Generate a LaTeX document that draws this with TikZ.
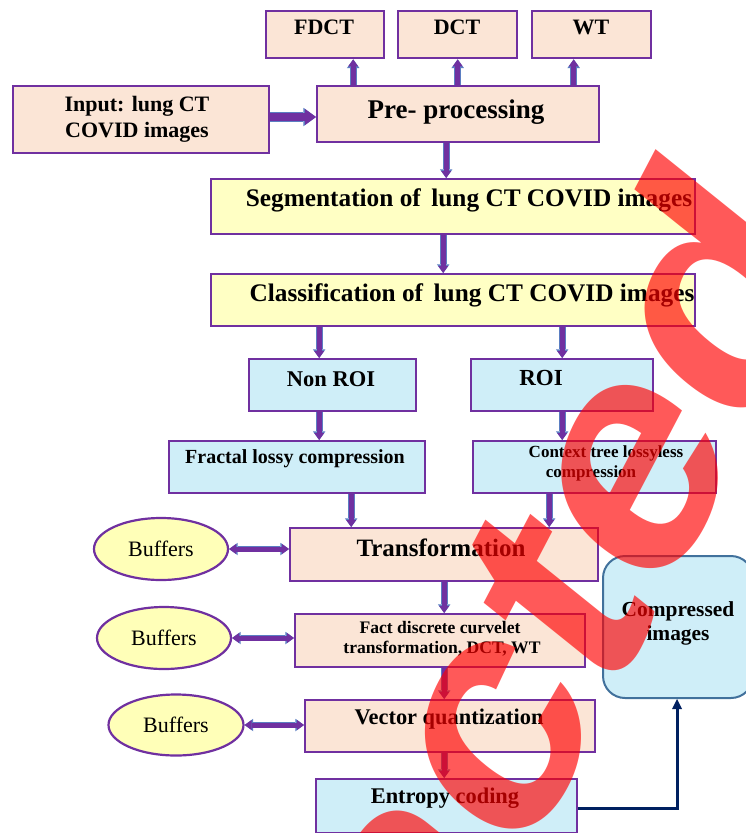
\documentclass[tikz,border=0pt]{standalone}
\usepackage{fontspec}
\setmainfont{Liberation Serif}
\newfontfamily\wmfont{Liberation Sans}
\usetikzlibrary{arrows.meta,shapes.geometric,calc}
\definecolor{boxline}{HTML}{7030A0}
\definecolor{peachfill}{HTML}{FBE5D6}
\definecolor{yelfill}{HTML}{FFFFC4}
\definecolor{bluefill}{HTML}{CFEEF8}
\definecolor{buffill}{HTML}{FFFFB8}
\definecolor{arrfill}{HTML}{7030A0}
\definecolor{arredge}{HTML}{5B7EC2}
\definecolor{compline}{HTML}{41719C}
\definecolor{navy}{HTML}{002060}
\newcommand\tsz[1]{\fontsize{#1}{#1}\selectfont}
\begin{document}
\begin{tikzpicture}[x=1pt,y=-1pt,
  box/.style={draw=boxline, line width=2.4pt, rectangle, inner sep=0pt, anchor=north west},
  peach/.style={box, fill=peachfill},
  yel/.style={box, fill=yelfill},
  blu/.style={box, fill=bluefill},
  buf/.style={ellipse, draw=boxline, line width=2.2pt, fill=buffill, inner sep=0pt, minimum width=134pt, minimum height=62pt},
  comp/.style={draw=compline, line width=2pt, fill=bluefill, rounded corners=22pt, rectangle, inner sep=0pt, anchor=north west},
  lbl/.style={inner sep=0pt, anchor=base, font=\bfseries\tsz{#1}},
  rlbl/.style={inner sep=0pt, anchor=base, font=\tsz{#1}},
  varr/.style={draw=arrfill, line width=5pt, -{Triangle[width=10pt,length=7pt,line width=0pt]},
    preaction={draw=arredge, line width=6.6pt, -{Triangle[width=12.5pt,length=8.6pt,line width=0pt]}}},
  barr/.style={draw=arrfill, line width=8pt, -{Triangle[width=16pt,length=11pt,line width=0pt]},
    preaction={draw=arredge, line width=9.6pt, -{Triangle[width=18.5pt,length=12.6pt,line width=0pt]}}},
  darr/.style={draw=arrfill, line width=5pt, {Triangle[width=10pt,length=7pt,line width=0pt]}-{Triangle[width=10pt,length=7pt,line width=0pt]},
    preaction={draw=arredge, line width=6.6pt, {Triangle[width=12.5pt,length=8.6pt,line width=0pt]}-{Triangle[width=12.5pt,length=8.6pt,line width=0pt]}}},
  narr/.style={draw=navy, line width=3pt, -{Triangle[width=10pt,length=10pt,line width=0pt]}},
  wm/.style={text=red, text opacity=0.65, font=\wmfont\bfseries\tsz{350}, inner sep=0pt}
]
\useasboundingbox[fill=white] (0,0) rectangle (746,833);

% boxes
\node[peach, minimum width=118pt, minimum height=47pt] (fdct) at (265,10) {};
\node[peach, minimum width=119pt, minimum height=47pt] (dct) at (397,10) {};
\node[peach, minimum width=119pt, minimum height=47pt] (wt) at (531,10) {};
\node[peach, minimum width=256pt, minimum height=67pt] (inp) at (12,85) {};
\node[peach, minimum width=282pt, minimum height=56pt] (pre) at (316,85) {};
\node[yel, minimum width=484pt, minimum height=55pt] (seg) at (210,178) {};
\node[yel, minimum width=484pt, minimum height=52pt] (cls) at (210,273) {};
\node[blu, minimum width=167pt, minimum height=52pt] (nonroi) at (248,358) {};
\node[blu, minimum width=182pt, minimum height=52pt] (roi) at (470,358) {};
\node[blu, minimum width=256pt, minimum height=52pt] (frac) at (168,440) {};
\node[blu, minimum width=243pt, minimum height=52pt] (ctx) at (472,440) {};
\node[peach, minimum width=308pt, minimum height=53pt] (trans) at (289,527) {};
\node[peach, minimum width=290pt, minimum height=53pt] (fact) at (294,613) {};
\node[peach, minimum width=290pt, minimum height=52pt] (vq) at (304,699) {};
\node[blu, minimum width=261pt, minimum height=54pt] (ent) at (315,778) {};
\node[comp, minimum width=150pt, minimum height=142pt] (cmp) at (602,555) {};
\node[buf] (buf1) at (161,549) {};
\node[buf] (buf2) at (164,638) {};
\node[buf, minimum width=135pt, minimum height=61pt] (buf3) at (176,725) {};

% labels
\node[lbl=22] (fdct-t) at (324,34) {FDCT};
\node[lbl=22] (dct-t) at (457,34) {DCT};
\node[lbl=22] (wt-t) at (591,34) {WT};
\node[lbl=22] (inp-t1) at (137,111) {Input: lung CT};
\node[lbl=22] (inp-t2) at (137,137) {COVID images};
\node[lbl=27] (pre-t) at (456,118) {Pre- processing};
\node[lbl=25.3] (seg-t) at (469,206) {Segmentation of\, lung CT COVID images};
\node[lbl=25.3] (cls-t) at (472,301) {Classification of\, lung CT COVID images};
\node[lbl=22.5] (nonroi-t) at (331,386) {Non ROI};
\node[lbl=23] (roi-t) at (541,385.5) {ROI};
\node[lbl=20] (frac-t) at (295,463.5) {Fractal lossy compression};
\node[lbl=17] (ctx-t1) at (606,457.5) {Context tree lossyless};
\node[lbl=17] (ctx-t2) at (591,477.5) {compression};
\node[lbl=25] (trans-t) at (441,556) {Transformation};
\node[rlbl=22] (buf1-t) at (161,556) {Buffers};
\node[rlbl=22] (buf2-t) at (164,645) {Buffers};
\node[rlbl=22] (buf3-t) at (176,732) {Buffers};
\node[lbl=17.6] (fact-t1) at (440,633) {Fact discrete curvelet};
\node[lbl=17.6] (fact-t2) at (442,653) {transformation, DCT, WT};
\node[lbl=21.4] (cmp-t1) at (678,616) {Compressed};
\node[lbl=21.4] (cmp-t2) at (678,640) {images};
\node[lbl=22.4] (vq-t) at (449,724) {Vector quantization};
\node[lbl=22.4] (ent-t) at (445,803) {Entropy coding};

% connectors
\draw[barr] (inp.east |- 0,117) -- (pre.west |- 0,117);
\draw[varr] ([xshift=28pt]fdct.south |- pre.north) -- ([xshift=28pt]fdct.south);
\draw[varr] (dct.south |- pre.north) -- (dct.south);
\draw[varr] ([xshift=-18pt]wt.south |- pre.north) -- ([xshift=-18pt]wt.south);
\draw[varr] ([xshift=-12pt]pre.south) -- ([xshift=-12pt]pre.south |- seg.north);
\draw[varr] ([xshift=-10pt]seg.south) -- ([xshift=-10pt]seg.south |- cls.north);
\draw[varr] ([xshift=-13.5pt]nonroi.north |- cls.south) -- ([xshift=-13.5pt]nonroi.north);
\draw[varr] (roi.north |- cls.south) -- (roi.north);
\draw[varr] ([xshift=-13.5pt]nonroi.south) -- ([xshift=-13.5pt]nonroi.south |- frac.north);
\draw[varr] (roi.south) -- (roi.south |- ctx.north);
\draw[varr] ([xshift=54pt]frac.south) -- ([xshift=54pt]frac.south |- trans.north);
\draw[varr] ([xshift=-45.5pt]ctx.south) -- ([xshift=-45.5pt]ctx.south |- trans.north);
\draw[varr] (trans.south) -- (trans.south |- fact.north);
\draw[varr] ([xshift=4pt]fact.south) -- ([xshift=4pt]fact.south |- vq.north);
\draw[varr] ([xshift=-6pt]vq.south) -- ([xshift=-6pt]vq.south |- ent.north);
\draw[darr] (buf1.east) -- (trans.west |- buf1.east);
\draw[darr] (buf2.east) -- (fact.west |- buf2.east);
\draw[darr] (buf3.east) -- (vq.west |- buf3.east);
\draw[narr] ([yshift=-2pt]ent.east) -| ([xshift=-1pt]cmp.south);

% watermark (rotated, then compressed horizontally as in the reference)
\begin{scope}
\clip (0,0) rectangle (746,833);
\begin{scope}[xscale=0.808, transform shape]
\node[wm, rotate=57, anchor=base west] (wmark) at (158.2,1621.2) {Retracted};
\end{scope}
\end{scope}
\end{tikzpicture}
\end{document}
